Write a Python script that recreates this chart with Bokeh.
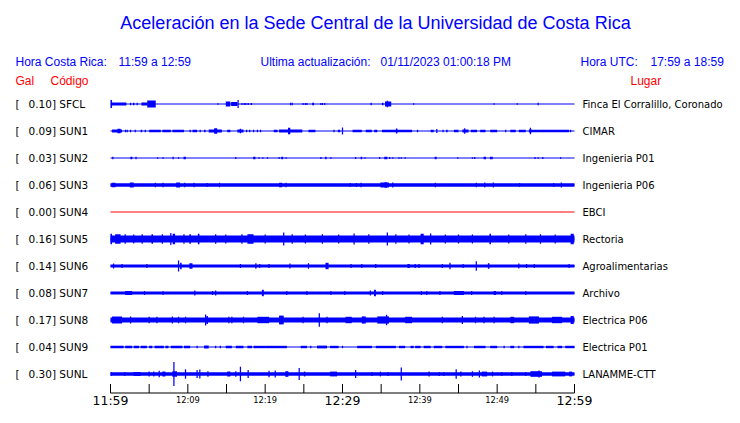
from bokeh.plotting import figure
from bokeh.models import Range1d, ColumnDataSource
from bokeh.core.properties import value
from bokeh.embed import file_html
from bokeh.resources import INLINE

# ---------------- data ----------------
TITLE = "Aceleración en la Sede Central de la Universidad de Costa Rica"
LOCAL_LABEL = "Hora Costa Rica:"
LOCAL_TIME = "11:59 a 12:59"
UPDATE_LABEL = "Ultima actualización:"
UPDATED = "01/11/2023 01:00:18 PM"
UTC_LABEL = "Hora UTC:"
UTC_TIME = "17:59 a 18:59"

CODES = ["SFCL", "SUN1", "SUN2", "SUN3", "SUN4", "SUN5", "SUN6", "SUN7", "SUN8", "SUN9", "SUNL"]
MAX_GAL = [0.10, 0.09, 0.03, 0.06, 0.00, 0.16, 0.14, 0.08, 0.17, 0.04, 0.30]
PLACES = ["Finca El Corralillo, Coronado", "CIMAR", "Ingenieria P01", "Ingenieria P06", "EBCI",
          "Rectoria", "Agroalimentarias", "Archivo", "Electrica P06", "Electrica P01", "LANAMME-CTT"]
# continuous background band half-amplitude (Gal)
BASE_GAL = [0.0, 0.0, 0.0, 0.045, 0.0, 0.09, 0.04, 0.04, 0.06, 0.0, 0.045]
TRACE_COLORS = ["#0000ff", "#0000ff", "#0000ff", "#0000ff", "#ff0000", "#0000ff",
                "#0000ff", "#0000ff", "#0000ff", "#0000ff", "#0000ff"]

# bursts: (minute after 11:59, duration in minutes, half amplitude in Gal)
SFCL = [(0.1, 0.2, 0.10), (1.1, 1.9, 0.04), (2.6, 0.15, 0.03), (3.0, 0.2, 0.03), (3.45, 0.15, 0.03),
        (4.4, 0.8, 0.04), (5.3, 1.1, 0.09), (13.9, 0.1, 0.02), (15.2, 0.6, 0.06), (16.0, 0.8, 0.05),
        (16.5, 0.12, 0.10), (17.0, 0.1, 0.025), (17.3, 0.1, 0.025), (17.5, 0.15, 0.025), (17.8, 0.1, 0.025),
        (18.2, 0.2, 0.025), (23.3, 0.1, 0.03), (23.5, 0.1, 0.03), (24.9, 0.1, 0.025), (25.2, 0.1, 0.025),
        (25.4, 0.1, 0.025), (26.2, 0.25, 0.03), (27.2, 0.1, 0.025), (27.4, 0.1, 0.025), (27.7, 0.1, 0.025),
        (33.7, 0.1, 0.03), (35.2, 0.2, 0.03), (35.9, 0.8, 0.06), (35.8, 0.12, 0.08), (39.2, 0.1, 0.02),
        (49.6, 0.1, 0.02), (52.6, 0.1, 0.02), (55.3, 0.1, 0.03)]
SUN1 = [(0.85, 1.3, 0.035), (1.1, 0.4, 0.055), (1.94, 0.15, 0.03), (2.16, 0.15, 0.03), (2.59, 0.15, 0.03),
        (3.2, 0.15, 0.03), (4.0, 0.2, 0.03), (4.5, 0.15, 0.03), (5.75, 1.5, 0.03), (7.25, 1.1, 0.03),
        (8.75, 1.5, 0.03), (10.3, 0.15, 0.03), (10.9, 0.6, 0.03), (11.6, 0.15, 0.03), (12.2, 0.2, 0.03),
        (13.55, 1.7, 0.035), (13.6, 0.4, 0.07), (15.3, 0.4, 0.03), (16.8, 0.8, 0.035), (16.8, 0.15, 0.055),
        (17.6, 0.15, 0.03), (18.0, 0.15, 0.03), (18.5, 0.15, 0.03), (19.0, 0.15, 0.03), (19.4, 0.15, 0.03),
        (21.35, 0.5, 0.03), (23.3, 3.0, 0.035), (23.1, 0.3, 0.08), (26.05, 0.9, 0.03), (28.9, 0.15, 0.03),
        (29.55, 0.3, 0.03), (30.0, 0.1, 0.09), (31.9, 1.2, 0.03), (33.4, 0.8, 0.03), (34.3, 0.4, 0.03),
        (37.05, 3.9, 0.03), (37.0, 0.2, 0.06), (39.7, 0.15, 0.03), (41.6, 0.4, 0.03), (42.2, 0.15, 0.05),
        (43.0, 0.15, 0.03), (43.5, 0.2, 0.03), (44.7, 0.6, 0.03), (45.9, 0.8, 0.035), (45.8, 0.15, 0.07),
        (47.0, 0.8, 0.03), (48.15, 0.7, 0.03), (49.55, 0.9, 0.03), (51.1, 0.15, 0.03), (52.05, 0.7, 0.03),
        (53.25, 0.9, 0.03), (54.3, 0.4, 0.035), (54.3, 0.15, 0.08), (54.95, 0.9, 0.03), (57.35, 3.9, 0.03),
        (59.5, 0.15, 0.03)]
SUN2 = [(0.3, 0.12, 0.03), (2.7, 0.25, 0.03), (3.3, 0.15, 0.03), (6.1, 0.1, 0.02), (6.8, 0.1, 0.02),
        (8.1, 0.15, 0.03), (8.8, 0.1, 0.02), (9.6, 0.3, 0.03), (16.2, 0.1, 0.025), (18.6, 0.3, 0.03),
        (19.2, 0.1, 0.02), (19.7, 0.1, 0.02), (20.3, 0.1, 0.02), (21.8, 0.1, 0.025), (22.2, 0.25, 0.03),
        (22.7, 0.1, 0.02), (27.2, 0.1, 0.025), (27.85, 0.2, 0.03), (28.5, 0.1, 0.02), (31.7, 0.1, 0.025),
        (32.45, 0.2, 0.03), (32.9, 0.1, 0.02), (34.8, 0.1, 0.025), (35.6, 0.4, 0.03), (36.1, 0.1, 0.025),
        (36.5, 0.1, 0.02), (37.3, 0.1, 0.02), (37.6, 0.1, 0.02), (38.1, 0.1, 0.02), (42.05, 0.25, 0.03),
        (44.9, 0.1, 0.02), (46.8, 0.1, 0.02), (47.1, 0.1, 0.025), (48.4, 0.3, 0.03), (49.25, 0.35, 0.03),
        (54.9, 0.1, 0.025), (55.3, 0.1, 0.02), (55.9, 0.1, 0.025), (58.2, 0.1, 0.02)]
SUN3 = [(0.4, 0.5, 0.055), (2.75, 0.5, 0.06), (5.8, 0.1, 0.055), (6.8, 0.1, 0.055), (8.75, 0.5, 0.06),
        (9.6, 0.1, 0.055), (10.8, 0.1, 0.055), (12.5, 0.1, 0.05), (14.1, 0.15, 0.055), (22.0, 0.4, 0.055),
        (22.7, 0.1, 0.055), (31.0, 0.1, 0.05), (31.8, 0.1, 0.05), (32.4, 0.1, 0.055), (35.45, 1.1, 0.06),
        (35.6, 0.3, 0.07), (36.5, 0.15, 0.06), (42.0, 0.1, 0.055), (47.3, 0.1, 0.055), (48.4, 0.1, 0.06),
        (49.5, 0.15, 0.06), (52.9, 0.1, 0.05), (57.3, 0.1, 0.05), (58.3, 0.1, 0.06)]
SUN4 = []
SUN5 = [(0.1, 0.2, 0.13), (0.95, 0.7, 0.12), (1.9, 0.1, 0.12), (3.0, 0.1, 0.11), (4.1, 0.1, 0.12),
        (5.4, 0.2, 0.12), (6.7, 0.1, 0.12), (7.8, 0.12, 0.15), (8.2, 0.3, 0.13), (9.5, 0.1, 0.12),
        (10.3, 0.2, 0.12), (11.4, 0.2, 0.13), (13.6, 0.1, 0.12), (14.9, 0.1, 0.11), (17.0, 0.1, 0.12),
        (18.1, 0.8, 0.12), (20.0, 0.1, 0.11), (22.4, 0.12, 0.16), (23.5, 0.1, 0.12), (25.2, 0.1, 0.11),
        (27.4, 0.1, 0.12), (29.5, 0.1, 0.11), (31.5, 0.12, 0.14), (33.4, 0.1, 0.12), (35.8, 0.15, 0.16),
        (36.9, 0.1, 0.12), (38.6, 0.1, 0.11), (40.3, 0.4, 0.13), (41.4, 0.12, 0.14), (43.3, 0.1, 0.11),
        (45.0, 0.1, 0.11), (46.8, 0.1, 0.11), (49.1, 0.2, 0.13), (51.5, 0.1, 0.11), (53.7, 0.1, 0.12),
        (55.6, 0.1, 0.12), (57.5, 0.1, 0.11), (59.7, 0.4, 0.13)]
SUN6 = [(0.4, 0.1, 0.06), (1.5, 0.1, 0.05), (4.7, 0.1, 0.05), (8.8, 0.12, 0.14), (9.1, 0.2, 0.08),
        (10.4, 0.4, 0.07), (16.8, 0.1, 0.05), (18.8, 0.1, 0.07), (19.3, 0.1, 0.05), (20.5, 0.1, 0.05),
        (23.2, 0.1, 0.06), (25.6, 0.1, 0.07), (28.0, 0.4, 0.08), (31.1, 0.1, 0.05), (32.5, 0.1, 0.05),
        (34.3, 0.15, 0.05), (38.55, 0.3, 0.05), (39.4, 0.1, 0.05), (39.9, 0.1, 0.05), (42.9, 0.1, 0.05),
        (43.9, 0.1, 0.08), (45.6, 0.1, 0.05), (47.3, 0.1, 0.12), (48.9, 0.2, 0.07), (52.8, 0.1, 0.06),
        (53.8, 0.1, 0.05), (54.8, 0.1, 0.05), (59.3, 0.1, 0.05)]
SUN7 = [(2.35, 0.9, 0.05), (4.4, 0.1, 0.05), (6.8, 0.1, 0.05), (10.9, 0.12, 0.06), (13.2, 0.1, 0.05),
        (13.6, 0.12, 0.06), (17.7, 0.1, 0.05), (19.7, 0.25, 0.08), (22.8, 0.1, 0.05), (25.4, 0.1, 0.05),
        (28.5, 0.1, 0.05), (30.3, 0.1, 0.05), (33.6, 0.12, 0.06), (34.2, 0.25, 0.08), (35.2, 0.1, 0.05),
        (40.2, 0.1, 0.05), (40.9, 0.1, 0.05), (42.6, 0.1, 0.05), (45.05, 1.3, 0.05), (46.7, 0.1, 0.05),
        (49.7, 0.3, 0.05), (50.6, 0.1, 0.05), (53.7, 0.1, 0.05)]
SUN8 = [(0.85, 1.3, 0.09), (2.6, 0.1, 0.09), (5.0, 0.1, 0.08), (6.0, 0.1, 0.08), (8.0, 0.12, 0.09),
        (8.8, 0.1, 0.08), (9.7, 0.1, 0.08), (12.3, 0.12, 0.14), (12.5, 0.2, 0.10), (15.3, 0.1, 0.08),
        (15.7, 0.1, 0.08), (17.2, 0.1, 0.08), (19.75, 1.5, 0.08), (22.1, 0.6, 0.11), (24.9, 0.1, 0.08),
        (27.0, 0.12, 0.17), (28.0, 0.1, 0.08), (30.8, 0.8, 0.08), (32.75, 0.5, 0.09), (35.25, 1.5, 0.09),
        (35.7, 0.15, 0.13), (38.55, 0.9, 0.08), (42.9, 0.1, 0.08), (45.5, 0.15, 0.10), (47.2, 0.1, 0.08),
        (48.3, 0.1, 0.08), (49.6, 0.1, 0.08), (51.95, 0.5, 0.08), (54.75, 1.3, 0.09), (57.75, 1.3, 0.08),
        (59.7, 0.4, 0.10)]
SUN9 = [(0.85, 1.7, 0.03), (2.35, 0.9, 0.03), (3.35, 0.7, 0.03), (4.3, 0.8, 0.03), (5.2, 0.4, 0.03),
        (6.3, 1.2, 0.03), (7.3, 0.4, 0.03), (8.55, 1.5, 0.03), (9.9, 0.8, 0.03), (11.2, 0.1, 0.03),
        (12.4, 0.6, 0.04), (13.6, 0.1, 0.03), (14.2, 0.1, 0.03), (15.3, 0.8, 0.03), (16.7, 1.0, 0.03),
        (18.0, 0.6, 0.03), (19.25, 1.5, 0.03), (21.4, 2.8, 0.03), (25.0, 0.8, 0.03), (25.9, 0.1, 0.03),
        (27.35, 1.3, 0.035), (28.95, 1.1, 0.03), (30.0, 0.1, 0.03), (32.85, 1.9, 0.03), (35.6, 2.6, 0.03),
        (37.7, 0.8, 0.03), (39.0, 0.4, 0.03), (39.75, 0.7, 0.03), (40.95, 0.9, 0.03), (42.35, 1.1, 0.03),
        (44.5, 2.4, 0.03), (46.1, 0.1, 0.03), (47.75, 1.5, 0.03), (49.55, 0.9, 0.03), (50.9, 0.1, 0.03),
        (51.95, 0.5, 0.03), (52.8, 0.1, 0.03), (54.7, 2.6, 0.03), (56.8, 1.0, 0.03), (58.1, 0.6, 0.03),
        (59.4, 1.2, 0.03)]
SUNL = [(0.1, 0.1, 0.05), (1.85, 0.1, 0.05), (3.45, 0.9, 0.05), (5.0, 0.1, 0.06), (5.6, 0.1, 0.06),
        (6.3, 0.1, 0.08), (6.9, 0.4, 0.06), (8.3, 0.6, 0.07), (8.2, 0.1, 0.30), (9.7, 0.12, 0.12),
        (11.2, 0.1, 0.10), (11.55, 0.1, 0.11), (12.6, 0.1, 0.07), (15.3, 0.4, 0.06), (16.2, 0.1, 0.07),
        (16.8, 0.1, 0.18), (17.8, 0.15, 0.10), (20.5, 0.1, 0.08), (21.3, 0.1, 0.09), (22.8, 0.4, 0.07),
        (24.4, 0.1, 0.15), (25.1, 0.2, 0.06), (28.85, 0.9, 0.06), (31.7, 0.12, 0.10), (33.8, 0.1, 0.05),
        (34.9, 0.1, 0.06), (35.9, 0.1, 0.05), (37.6, 0.12, 0.16), (41.2, 0.1, 0.06), (42.5, 0.1, 0.05),
        (43.1, 0.1, 0.05), (44.7, 0.1, 0.12), (45.3, 0.1, 0.06), (46.8, 0.1, 0.07), (47.7, 0.1, 0.09),
        (48.35, 0.7, 0.06), (49.4, 0.1, 0.06), (50.6, 0.1, 0.05), (51.9, 0.1, 0.05), (53.7, 0.1, 0.05),
        (55.05, 1.5, 0.07), (55.4, 0.1, 0.09), (57.95, 1.7, 0.06), (59.5, 0.4, 0.06)]
BURSTS = [SFCL, SUN1, SUN2, SUN3, SUN4, SUN5, SUN6, SUN7, SUN8, SUN9, SUNL]

TICK_MIN = [0, 5, 10, 15, 20, 25, 30, 35, 40, 45, 50, 55, 60]
LABEL_MIN = [0, 10, 20, 30, 40, 50, 60]
LABEL_TEXT = ["11:59", "12:09", "12:19", "12:29", "12:39", "12:49", "12:59"]
LABEL_BIG = [True, False, False, True, False, False, True]
SPAN_MIN = 60

# ---------------- layout / style ----------------
W, H = 724, 407
PX_PER_MIN = 464.0 / 60.0     # horizontal scale
X_ZERO = 110.0                # x (px) of 11:59
ROW_ZERO = 103.5              # y (px) of the first trace
ROW_PX = 27.0                 # spacing between traces
GAL_PX = 40.0                 # pixels per Gal
BLUE = "#0000ff"
RED = "#ff0000"
MIN_W = 0.16


def sx(px):
    return (px - X_ZERO) / PX_PER_MIN


def sy(py):
    return (py - ROW_ZERO) / ROW_PX


p = figure(width=W, height=H, x_range=Range1d(sx(0), sx(W)),
           y_range=Range1d(sy(H), sy(0)),
           x_axis_location=None, y_axis_location=None,
           output_backend="svg", toolbar_location=None, min_border=0,
           outline_line_color=None, background_fill_color="white",
           border_fill_color="white")
p.xgrid.grid_line_color = None
p.ygrid.grid_line_color = None

k = GAL_PX / ROW_PX
q = dict(left=[], right=[], top=[], bottom=[], color=[])
lines = dict(x0=[], x1=[], y0=[], y1=[], color=[])
for i, bursts in enumerate(BURSTS):
    c = TRACE_COLORS[i]
    lines["x0"].append(0); lines["x1"].append(SPAN_MIN)
    lines["y0"].append(i); lines["y1"].append(i); lines["color"].append(c)
    if BASE_GAL[i] > 0:
        h = BASE_GAL[i] * k
        q["left"].append(0); q["right"].append(SPAN_MIN)
        q["top"].append(i - h); q["bottom"].append(i + h); q["color"].append(c)
    for (t, w, a) in bursts:
        ww = max(w, MIN_W)
        h = a * k
        q["left"].append(t - ww / 2); q["right"].append(t + ww / 2)
        q["top"].append(i - h); q["bottom"].append(i + h); q["color"].append(c)

p.segment(x0="x0", x1="x1", y0="y0", y1="y1", color="color", line_width=1,
          source=ColumnDataSource(lines))
p.quad(left="left", right="right", top="top", bottom="bottom", fill_color="color",
       line_color=None, source=ColumnDataSource(q))

# time axis (moved up a little so the labels fit inside the figure)
y_ax = sy(392.5)
tick_len = 9.0 / ROW_PX
p.segment(x0=[0], x1=[SPAN_MIN], y0=[y_ax], y1=[y_ax], color="black", line_width=1)
p.segment(x0=TICK_MIN, x1=TICK_MIN, y0=[y_ax] * len(TICK_MIN),
          y1=[y_ax - tick_len] * len(TICK_MIN), color="black", line_width=1)
big_x = [m for m, b in zip(LABEL_MIN, LABEL_BIG) if b]
big_t = [t for t, b in zip(LABEL_TEXT, LABEL_BIG) if b]
small_x = [m for m, b in zip(LABEL_MIN, LABEL_BIG) if not b]
small_t = [t for t, b in zip(LABEL_TEXT, LABEL_BIG) if not b]
p.text(x=big_x, y=[sy(399.5)] * len(big_x), text=big_t, text_font=value("DejaVu Sans"),
       text_font_size=value("12.5px"), text_color="black", text_align="center",
       text_baseline="middle")
p.text(x=small_x, y=[sy(399)] * len(small_x), text=small_t, text_font=value("DejaVu Sans"),
       text_font_size=value("8.3px"), text_color="black", text_align="center",
       text_baseline="middle")

# station labels
rows = list(range(len(CODES)))
p.text(x=[sx(15)] * len(rows), y=rows, text=["["] * len(rows), text_font=value("DejaVu Sans"),
       text_font_size=value("10.5px"), text_color="black", text_align="left", text_baseline="middle")
p.text(x=[sx(28)] * len(rows), y=rows, text=[f"{g:.2f}] {c}" for g, c in zip(MAX_GAL, CODES)],
       text_font=value("DejaVu Sans"), text_font_size=value("10.5px"), text_color="black",
       text_align="left", text_baseline="middle")
p.text(x=[sx(582)] * len(rows), y=rows, text=PLACES, text_font=value("DejaVu Sans"),
       text_font_size=value("10px"), text_color="black", text_align="left", text_baseline="middle")

# header
p.text(x=[sx(375)], y=[sy(22.5)], text=[TITLE], text_font=value("Liberation Sans"),
       text_font_size=value("18px"), text_color=BLUE, text_align="center", text_baseline="middle")
p.text(x=[sx(15), sx(118), sx(260), sx(380), sx(580), sx(650)], y=[sy(61)] * 6,
       text=[LOCAL_LABEL, LOCAL_TIME, UPDATE_LABEL, UPDATED, UTC_LABEL, UTC_TIME],
       text_font=value("Liberation Sans"), text_font_size=value("12px"), text_color=BLUE,
       text_align="left", text_baseline="middle")
p.text(x=[sx(15), sx(50), sx(630)], y=[sy(80.5)] * 3, text=["Gal", "Código", "Lugar"],
       text_font=value("Liberation Sans"), text_font_size=value("12px"), text_color=RED,
       text_align="left", text_baseline="middle")

open("out.html", "w").write(file_html(p, INLINE))
